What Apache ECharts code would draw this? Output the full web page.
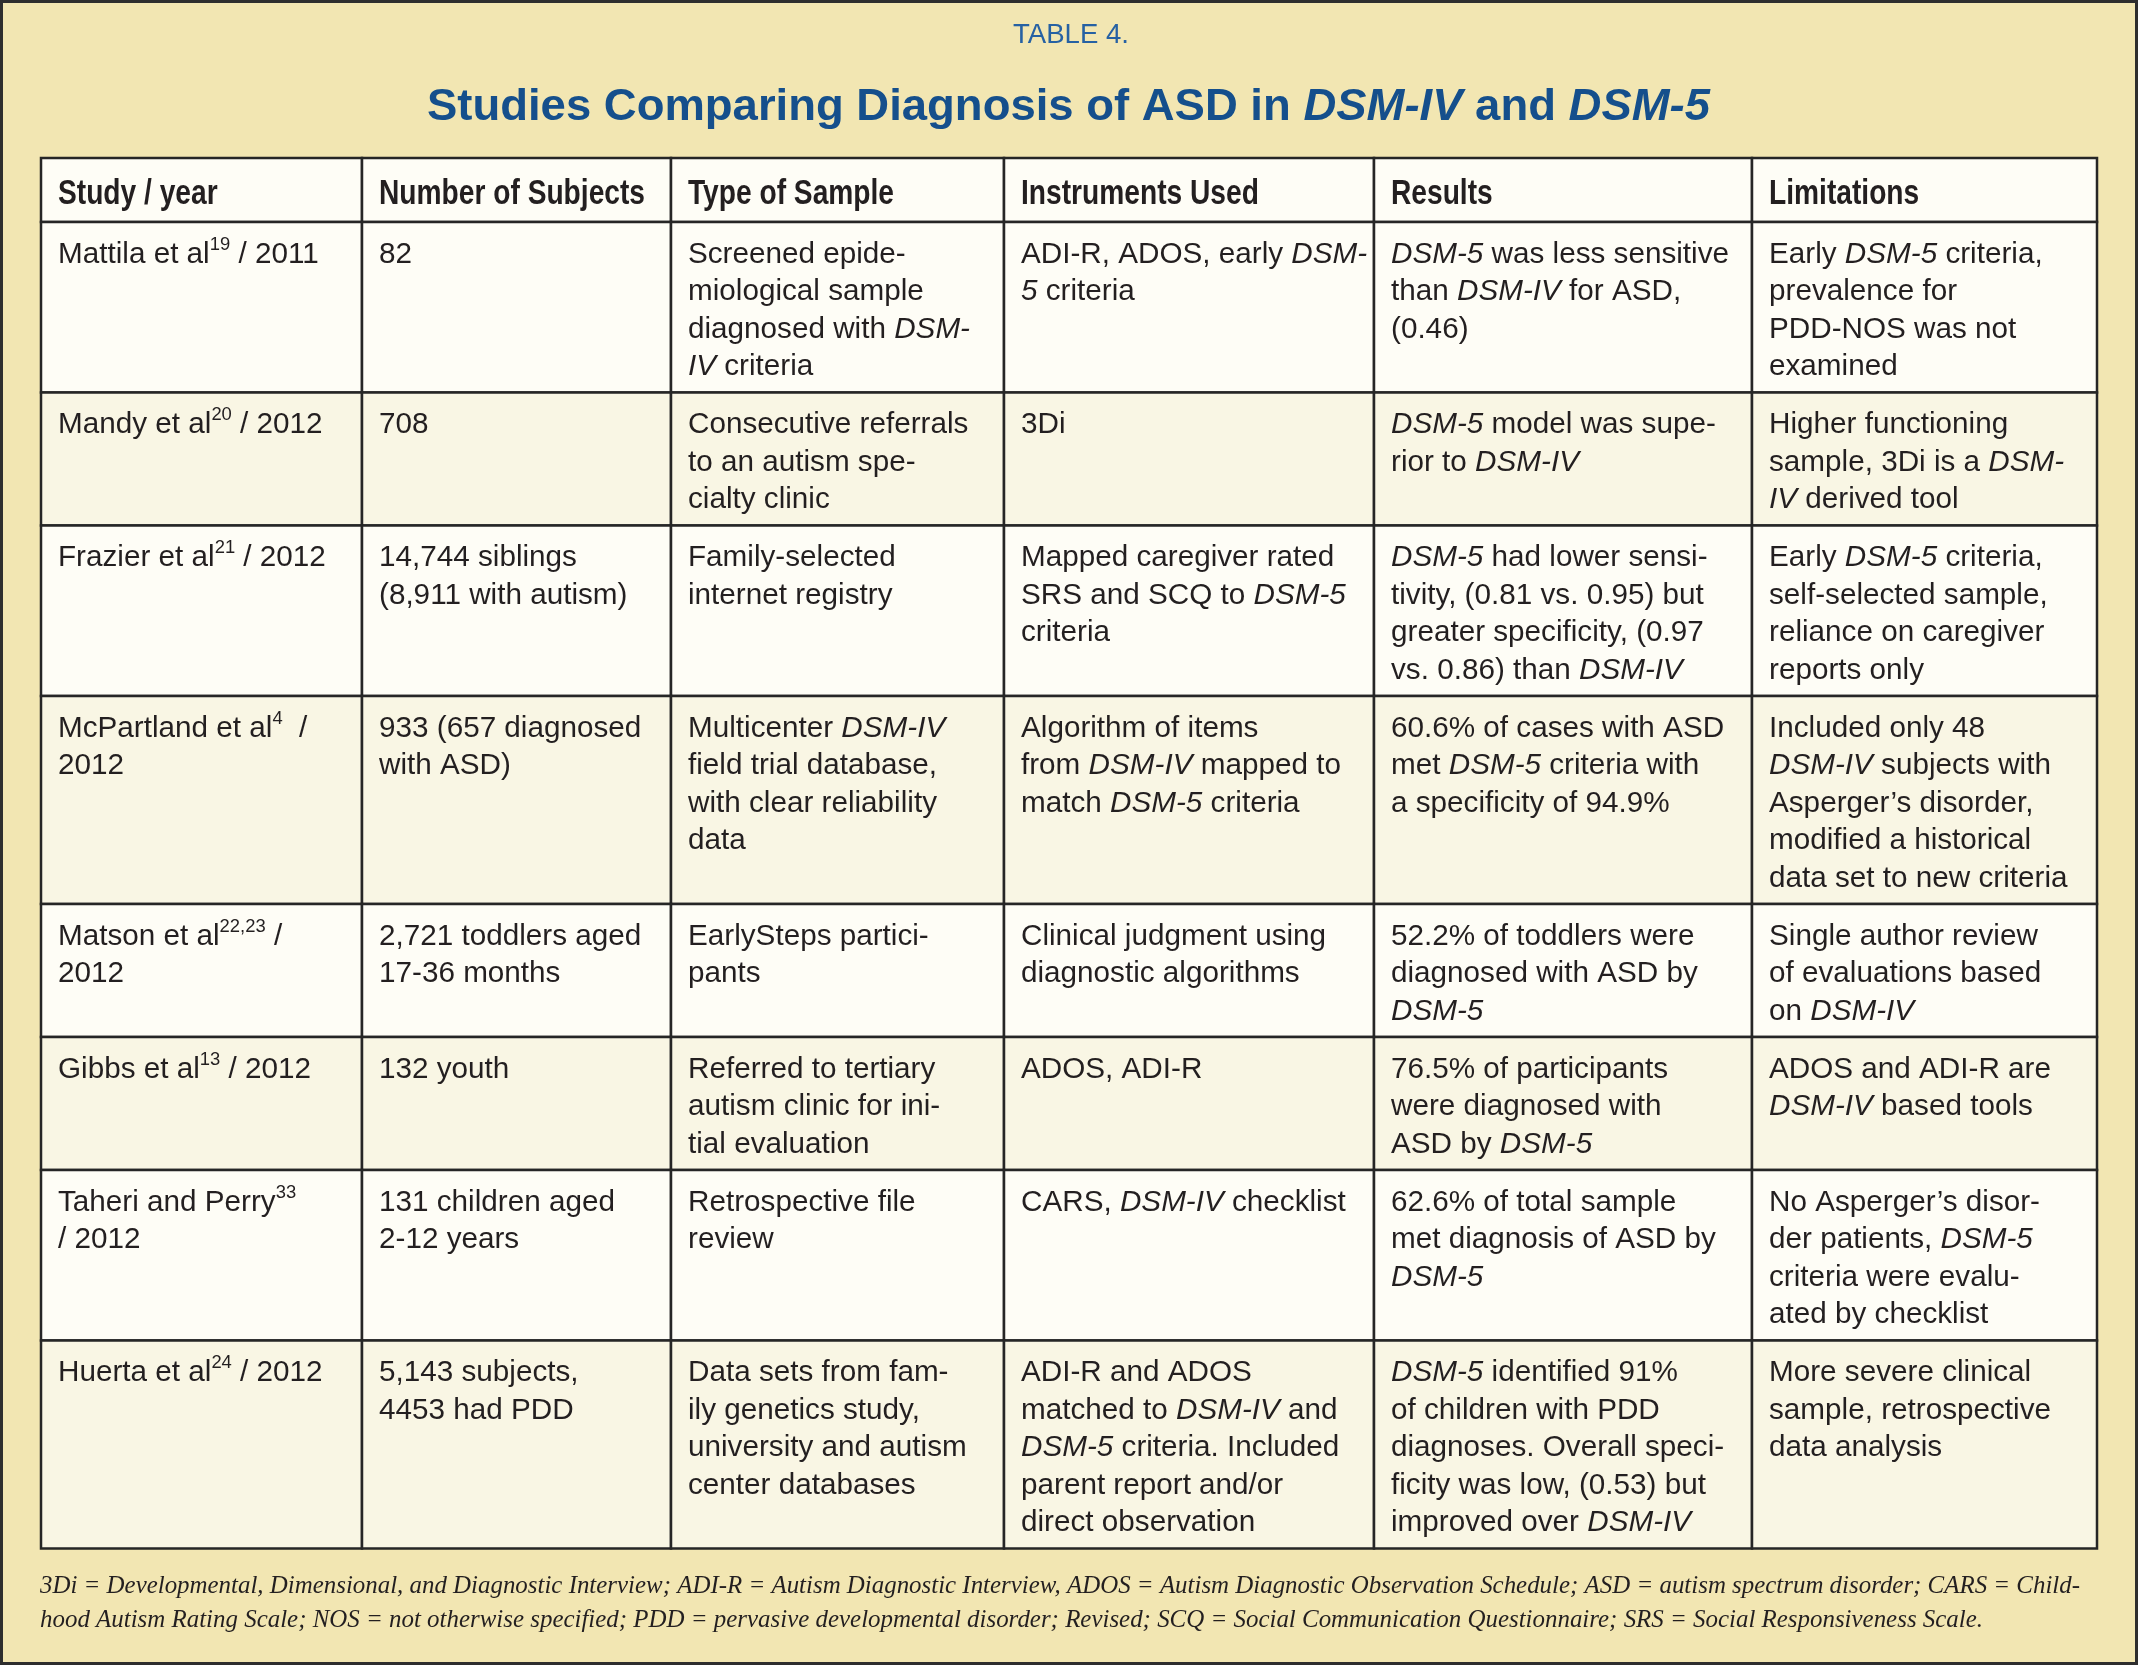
<!DOCTYPE html>
<html>
<head>
<meta charset="utf-8">
<script src="https://cdn.jsdelivr.net/npm/echarts@6/dist/echarts.min.js"></script>
<style>
  html, body { margin: 0; padding: 0; background: #f2e6b2; }
  #chart { width: 2138px; height: 1665px; }
</style>
</head>
<body>
<div id="chart"></div>
<script>
// *text* = italic, ^text^ = superscript
var tableLabel = 'TABLE 4.';
var tableTitle = 'Studies Comparing Diagnosis of ASD in *DSM-IV* and *DSM-5*';

var headers = ['Study / year', 'Number of Subjects', 'Type of Sample', 'Instruments Used', 'Results', 'Limitations'];

var studies = [
  'Mattila et al^19^ / 2011',
  'Mandy et al^20^ / 2012',
  'Frazier et al^21^ / 2012',
  'McPartland et al^4^  /\n2012',
  'Matson et al^22,23^ /\n2012',
  'Gibbs et al^13^ / 2012',
  'Taheri and Perry^33^\n/ 2012',
  'Huerta et al^24^ / 2012'
];

var subjects = [
  '82',
  '708',
  '14,744 siblings\n(8,911 with autism)',
  '933 (657 diagnosed\nwith ASD)',
  '2,721 toddlers aged\n17-36 months',
  '132 youth',
  '131 children aged\n2-12 years',
  '5,143 subjects,\n4453 had PDD'
];

var sampleTypes = [
  'Screened epide-\nmiological sample\ndiagnosed with *DSM-*\n*IV* criteria',
  'Consecutive referrals\nto an autism spe-\ncialty clinic',
  'Family-selected\ninternet registry',
  'Multicenter *DSM-IV*\nfield trial database,\nwith clear reliability\ndata',
  'EarlySteps partici-\npants',
  'Referred to tertiary\nautism clinic for ini-\ntial evaluation',
  'Retrospective file\nreview',
  'Data sets from fam-\nily genetics study,\nuniversity and autism\ncenter databases'
];

var instruments = [
  'ADI-R, ADOS, early *DSM-*\n*5* criteria',
  '3Di',
  'Mapped caregiver rated\nSRS and SCQ to *DSM-5*\ncriteria',
  'Algorithm of items\nfrom *DSM-IV* mapped to\nmatch *DSM-5* criteria',
  'Clinical judgment using\ndiagnostic algorithms',
  'ADOS, ADI-R',
  'CARS, *DSM-IV* checklist',
  'ADI-R and ADOS\nmatched to *DSM-IV* and\n*DSM-5* criteria. Included\nparent report and/or\ndirect observation'
];

var results = [
  '*DSM-5* was less sensitive\nthan *DSM-IV* for ASD,\n(0.46)',
  '*DSM-5* model was supe-\nrior to *DSM-IV*',
  '*DSM-5* had lower sensi-\ntivity, (0.81 vs. 0.95) but\ngreater specificity, (0.97\nvs. 0.86) than *DSM-IV*',
  '60.6% of cases with ASD\nmet *DSM-5* criteria with\na specificity of 94.9%',
  '52.2% of toddlers were\ndiagnosed with ASD by\n*DSM-5*',
  '76.5% of participants\nwere diagnosed with\nASD by *DSM-5*',
  '62.6% of total sample\nmet diagnosis of ASD by\n*DSM-5*',
  '*DSM-5* identified 91%\nof children with PDD\ndiagnoses. Overall speci-\nficity was low, (0.53) but\nimproved over *DSM-IV*'
];

var limitations = [
  'Early *DSM-5* criteria,\nprevalence for\nPDD-NOS was not\nexamined',
  'Higher functioning\nsample, 3Di is a *DSM-*\n*IV* derived tool',
  'Early *DSM-5* criteria,\nself-selected sample,\nreliance on caregiver\nreports only',
  'Included only 48\n*DSM-IV* subjects with\nAsperger\u2019s disorder,\nmodified a historical\ndata set to new criteria',
  'Single author review\nof evaluations based\non *DSM-IV*',
  'ADOS and ADI-R are\n*DSM-IV* based tools',
  'No Asperger\u2019s disor-\nder patients, *DSM-5*\ncriteria were evalu-\nated by checklist',
  'More severe clinical\nsample, retrospective\ndata analysis'
];

var footnote = [
  '3Di = Developmental, Dimensional, and Diagnostic Interview; ADI-R = Autism Diagnostic Interview, ADOS = Autism Diagnostic Observation Schedule; ASD = autism spectrum disorder; CARS = Child-',
  'hood Autism Rating Scale; NOS = not otherwise specified; PDD = pervasive developmental disorder; Revised; SCQ = Social Communication Questionnaire; SRS = Social Responsiveness Scale.'
];

// layout
var W = 2138, H = 1665;
var FONT = '"Liberation Sans", Arial, sans-serif';
var SERIF = '"Liberation Serif", "Times New Roman", serif';
var colWidths = [321, 309, 333, 370, 378, 345];
var tableLeft = 41, tableTop = 158;
var LINE_H = 37.5, HEAD_H = 64, ROW_PAD = 20.5;
var BODY_SIZE = 29, HEAD_SIZE = 35, SUP_SIZE = 18, FN_SIZE = 25;
var INK = '#231f20';

var rows = [headers];
for (var i = 0; i < studies.length; i++) {
  rows.push([studies[i], subjects[i], sampleTypes[i], instruments[i], results[i], limitations[i]]);
}

var rowHeights = rows.map(function (row, r) {
  if (r === 0) return HEAD_H;
  var n = Math.max.apply(null, row.map(function (t) { return t.split('\n').length; }));
  return LINE_H * n + ROW_PAD;
});
var colStart = [], rowStart = [];
var acc = 0;
colWidths.forEach(function (w) { colStart.push(acc); acc += w; });
var totalW = acc;
acc = 0;
rowHeights.forEach(function (h) { rowStart.push(acc); acc += h; });
var totalH = acc;

var cells = [];
rows.forEach(function (row, r) {
  row.forEach(function (t, c) { cells.push([c, r]); });
});

// text measuring, used to fit the narrower print fonts
var mctx = document.createElement('canvas').getContext('2d');
function textWidth(str, font) {
  mctx.font = font;
  return mctx.measureText(str.replace(/[*^]/g, '')).width;
}
function toRich(s) {
  return s.replace(/\*([^*]+)\*/g, '{i|$1}').replace(/\^([^^]+)\^/g, '{s|$1}');
}

var bodyScale = 338 / textWidth('DSM-5 was less sensitive', BODY_SIZE + 'px ' + FONT);
var headScale = 266 / textWidth('Number of Subjects', 'bold ' + HEAD_SIZE + 'px ' + FONT);
var titleScale = 1283 / textWidth(tableTitle, 'bold 44px ' + FONT);
var labelScale = 116 / textWidth(tableLabel, '28px ' + FONT);
var fn1Scale = 2040 / textWidth(footnote[0], 'italic ' + FN_SIZE + 'px ' + SERIF);
var fn2Scale = 1943 / textWidth(footnote[1], 'italic ' + FN_SIZE + 'px ' + SERIF);

function richStyles(size, weight) {
  return {
    i: { fontSize: size, fontFamily: FONT, fontStyle: 'italic', fontWeight: weight, fill: INK, lineHeight: LINE_H },
    s: { fontSize: SUP_SIZE, fontFamily: FONT, fontWeight: weight, fill: INK, lineHeight: 32, verticalAlign: 'top' }
  };
}

function renderCell(params, api) {
  var c = api.value(0), r = api.value(1);
  var p0 = api.coord([colStart[c], rowStart[r]]);
  var p1 = api.coord([colStart[c] + colWidths[c], rowStart[r] + rowHeights[r]]);
  var isHead = r === 0;
  var fill = (r > 0 && r % 2 === 0) ? '#f9f6e4' : '#fefdf6';
  var size = isHead ? HEAD_SIZE : BODY_SIZE;
  var weight = isHead ? 'bold' : 'normal';
  return {
    type: 'group',
    children: [
      {
        type: 'rect',
        shape: { x: p0[0], y: p0[1], width: p1[0] - p0[0], height: p1[1] - p0[1] },
        style: { fill: fill, stroke: '#262626', lineWidth: 2.5 }
      },
      {
        type: 'text',
        x: p0[0] + 17,
        y: isHead ? (p0[1] + p1[1]) / 2 + 4 : p0[1] + 14,
        scaleX: isHead ? headScale : bodyScale,
        z2: 10,
        style: {
          text: toRich(rows[r][c]),
          fontSize: size,
          fontFamily: FONT,
          fontWeight: weight,
          fill: INK,
          lineHeight: isHead ? 44 : LINE_H,
          align: 'left',
          verticalAlign: isHead ? 'middle' : 'top',
          rich: richStyles(size, weight)
        }
      }
    ]
  };
}

var chart = echarts.init(document.getElementById('chart'), null, { renderer: 'canvas' });

chart.setOption({
  animation: false,
  backgroundColor: '#f2e6b2',
  grid: {
    left: tableLeft,
    top: tableTop,
    width: totalW,
    height: totalH
  },
  xAxis: { type: 'value', min: 0, max: totalW, show: false },
  yAxis: { type: 'value', min: 0, max: totalH, inverse: true, show: false },
  graphic: [
    {
      type: 'rect',
      shape: { x: 1.5, y: 1.5, width: W - 3, height: H - 3 },
      style: { fill: 'none', stroke: '#2e2e2e', lineWidth: 3 },
      z: 100
    },
    {
      type: 'text',
      x: 1013, y: 35,
      scaleX: labelScale,
      style: { text: tableLabel, fontSize: 28, fontFamily: FONT, fill: '#2661a3', align: 'left', verticalAlign: 'middle' }
    },
    {
      type: 'text',
      x: 427, y: 108,
      scaleX: titleScale,
      style: {
        text: toRich(tableTitle),
        fontSize: 44, fontFamily: FONT, fontWeight: 'bold', fill: '#154f8c',
        align: 'left', verticalAlign: 'middle',
        rich: {
          i: { fontSize: 44, fontFamily: FONT, fontWeight: 'bold', fontStyle: 'italic', fill: '#154f8c' }
        }
      }
    },
    {
      type: 'text',
      x: 40, y: 1586,
      scaleX: fn1Scale,
      style: { text: footnote[0], fontSize: FN_SIZE, fontFamily: SERIF, fontStyle: 'italic', fill: INK, align: 'left', verticalAlign: 'middle' }
    },
    {
      type: 'text',
      x: 40, y: 1620,
      scaleX: fn2Scale,
      style: { text: footnote[1], fontSize: FN_SIZE, fontFamily: SERIF, fontStyle: 'italic', fill: INK, align: 'left', verticalAlign: 'middle' }
    }
  ],
  series: [
    {
      type: 'custom',
      coordinateSystem: 'cartesian2d',
      renderItem: renderCell,
      data: cells,
      clip: false,
      silent: true
    }
  ]
});
</script>
</body>
</html>
